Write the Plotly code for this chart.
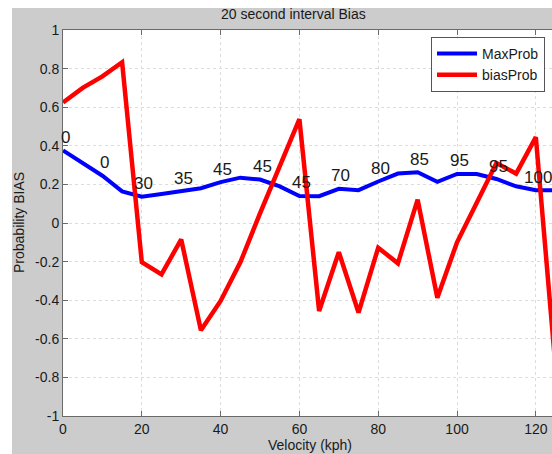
import plotly.graph_objects as go

# Velocity bins (kph)
velocity = [0, 5, 10, 15, 20, 25, 30, 35, 40, 45, 50, 55, 60,
            65, 70, 75, 80, 85, 90, 95, 100, 105, 110, 115, 120, 125]

# Probability bias of the most likely estimate
max_prob = [0.376, 0.31, 0.245, 0.164, 0.136, 0.15, 0.164, 0.18, 0.212,
            0.235, 0.225, 0.19, 0.14, 0.139, 0.177, 0.17, 0.215, 0.256,
            0.263, 0.213, 0.254, 0.254, 0.228, 0.19, 0.17, 0.17]

# Probability bias of the bias-corrected estimate
bias_prob = [0.624, 0.70, 0.76, 0.833, -0.203, -0.266, -0.085, -0.556,
             -0.404, -0.204, 0.05, 0.29, 0.538, -0.456, -0.151, -0.464,
             -0.128, -0.209, 0.121, -0.387, -0.10, 0.105, 0.311, 0.256,
             0.445, -0.75]

# Point labels written above every other MaxProb sample
point_labels = ["0", "0", "30", "35", "45", "45", "45", "70", "80",
                "85", "95", "95", "100"]

y_ticks = [-1, -0.8, -0.6, -0.4, -0.2, 0, 0.2, 0.4, 0.6, 0.8, 1]
y_tick_text = ["-1", "-0.8", "-0.6", "-0.4", "-0.2", "0", "0.2", "0.4",
               "0.6", "0.8", "1"]
x_ticks = [0, 20, 40, 60, 80, 100, 120]

FONT = "Liberation Sans, Arial, Helvetica, sans-serif"
TXT = "#1a1a1a"
AX = "#6a6a6a"
GRID = "#dcdcdc"

W, H = 552, 454
ML, MR, MT, MB = 63, 0, 30, 38
PW, PH = W - ML - MR, H - MT - MB


def px_x(px):
    return (px - ML) / PW


def px_y(py):
    return 1 - (py - MT) / PH


fig = go.Figure()
fig.add_trace(go.Scatter(x=velocity, y=max_prob, mode="lines", name="MaxProb",
                         line=dict(color="#0000ff", width=4)))
fig.add_trace(go.Scatter(x=velocity, y=bias_prob, mode="lines", name="biasProb",
                         line=dict(color="#ff0000", width=4.5)))

annotations = []
for i, txt in enumerate(point_labels):
    idx = i * 2
    annotations.append(dict(x=velocity[idx], y=max_prob[idx], xref="x", yref="y",
                            text=txt, showarrow=False, xanchor="center",
                            yanchor="middle", xshift=2, yshift=13,
                            font=dict(family=FONT, size=17, color=TXT)))

annotations += [
    dict(text="20 second interval Bias", xref="paper", yref="paper",
         x=px_x(293), y=px_y(14), showarrow=False, xanchor="center",
         yanchor="middle", font=dict(family=FONT, size=14, color=TXT)),
    dict(text="Velocity (kph)", xref="paper", yref="paper",
         x=px_x(310), y=px_y(445), showarrow=False, xanchor="center",
         yanchor="middle", font=dict(family=FONT, size=14, color=TXT)),
    dict(text="Probability BIAS", xref="paper", yref="paper",
         x=px_x(19), y=0.5, showarrow=False, textangle=-90,
         xanchor="center", yanchor="middle",
         font=dict(family=FONT, size=14, color=TXT)),
]

shapes = [
    # thin white border strips along the left and top of the figure
    dict(type="rect", xref="paper", yref="paper", x0=px_x(0), x1=px_x(12),
         y0=px_y(H), y1=px_y(0), fillcolor="white", line=dict(width=0),
         layer="below"),
    dict(type="rect", xref="paper", yref="paper", x0=px_x(0), x1=px_x(W),
         y0=px_y(8), y1=px_y(0), fillcolor="white", line=dict(width=0),
         layer="below"),
]

fig.update_layout(
    width=W, height=H, autosize=False,
    margin=dict(l=ML, r=MR, t=MT, b=MB, pad=0),
    paper_bgcolor="#cccccc", plot_bgcolor="white",
    font=dict(family=FONT, size=14, color=TXT),
    showlegend=True,
    legend=dict(x=px_x(545), y=px_y(37), xanchor="right", yanchor="top",
                bgcolor="white", bordercolor="#555555", borderwidth=1,
                font=dict(family=FONT, size=14, color=TXT),
                tracegroupgap=0, itemwidth=40),
    annotations=annotations,
    shapes=shapes,
)

fig.update_xaxes(range=[0, 124.1], tickvals=x_ticks,
                 ticks="inside", ticklen=5, tickcolor=AX, showline=True,
                 linecolor=AX, linewidth=1, mirror="ticks", showgrid=True,
                 gridcolor=GRID, griddash="dot", gridwidth=1, zeroline=False,
                 tickfont=dict(family=FONT, size=14, color=TXT))
fig.update_yaxes(range=[-1, 1], tickvals=y_ticks, ticktext=y_tick_text,
                 ticks="inside", ticklen=5, tickcolor=AX, showline=True,
                 linecolor=AX, linewidth=1, mirror=False, showgrid=True,
                 gridcolor=GRID, griddash="dot", gridwidth=1, zeroline=False,
                 tickfont=dict(family=FONT, size=14, color=TXT))

fig.write_html("out.html")
